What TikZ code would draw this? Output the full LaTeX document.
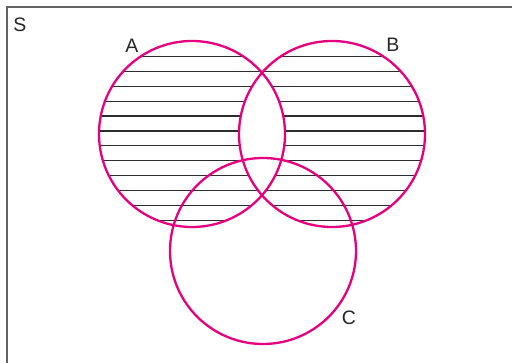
\documentclass[tikz,border=0pt]{standalone}
\usepackage{fontspec}
\setmainfont{Liberation Sans}
\definecolor{vennpink}{RGB}{230,0,126}
\definecolor{framegray}{RGB}{100,100,100}
\definecolor{hatchgray}{RGB}{45,45,45}
\begin{document}
\begin{tikzpicture}[x=1pt,y=-1pt,
  vennline/.style={draw=vennpink,line width=2.3pt},
  framelineS/.style={draw=framegray,line width=2pt},
  hatchline/.style={draw=hatchgray,line width=1.2pt},
  lbl/.style={font=\fontsize{19.5}{19.5}\selectfont,text=black!85,inner sep=0pt}]
\useasboundingbox (0,0) rectangle (512,363);
\fill[white] (0,0) rectangle (512,363);
% frame (only top and left edges visible)
\draw[framelineS] (7,363) -- (7,7.5) -- (512,7.5);
% hatching: symmetric difference of A and B
\begin{scope}[even odd rule]
  \clip (192,134) circle (93) (332,134) circle (93);
  \foreach \k in {0,...,12} {
    \draw[hatchline] (90,{41.7+14.88*\k}) -- (440,{41.7+14.88*\k});
  }
\end{scope}
% circles
\draw[vennline] (192,134) circle (93);
\draw[vennline] (332,134) circle (93);
\draw[vennline] (263,251) circle (93);
% labels
\node[lbl] (S) at (20,25) {S};
\node[lbl] (A) at (132,46) {A};
\node[lbl] (B) at (393,45) {B};
\node[lbl] (C) at (349,318) {C};
\end{tikzpicture}
\end{document}
